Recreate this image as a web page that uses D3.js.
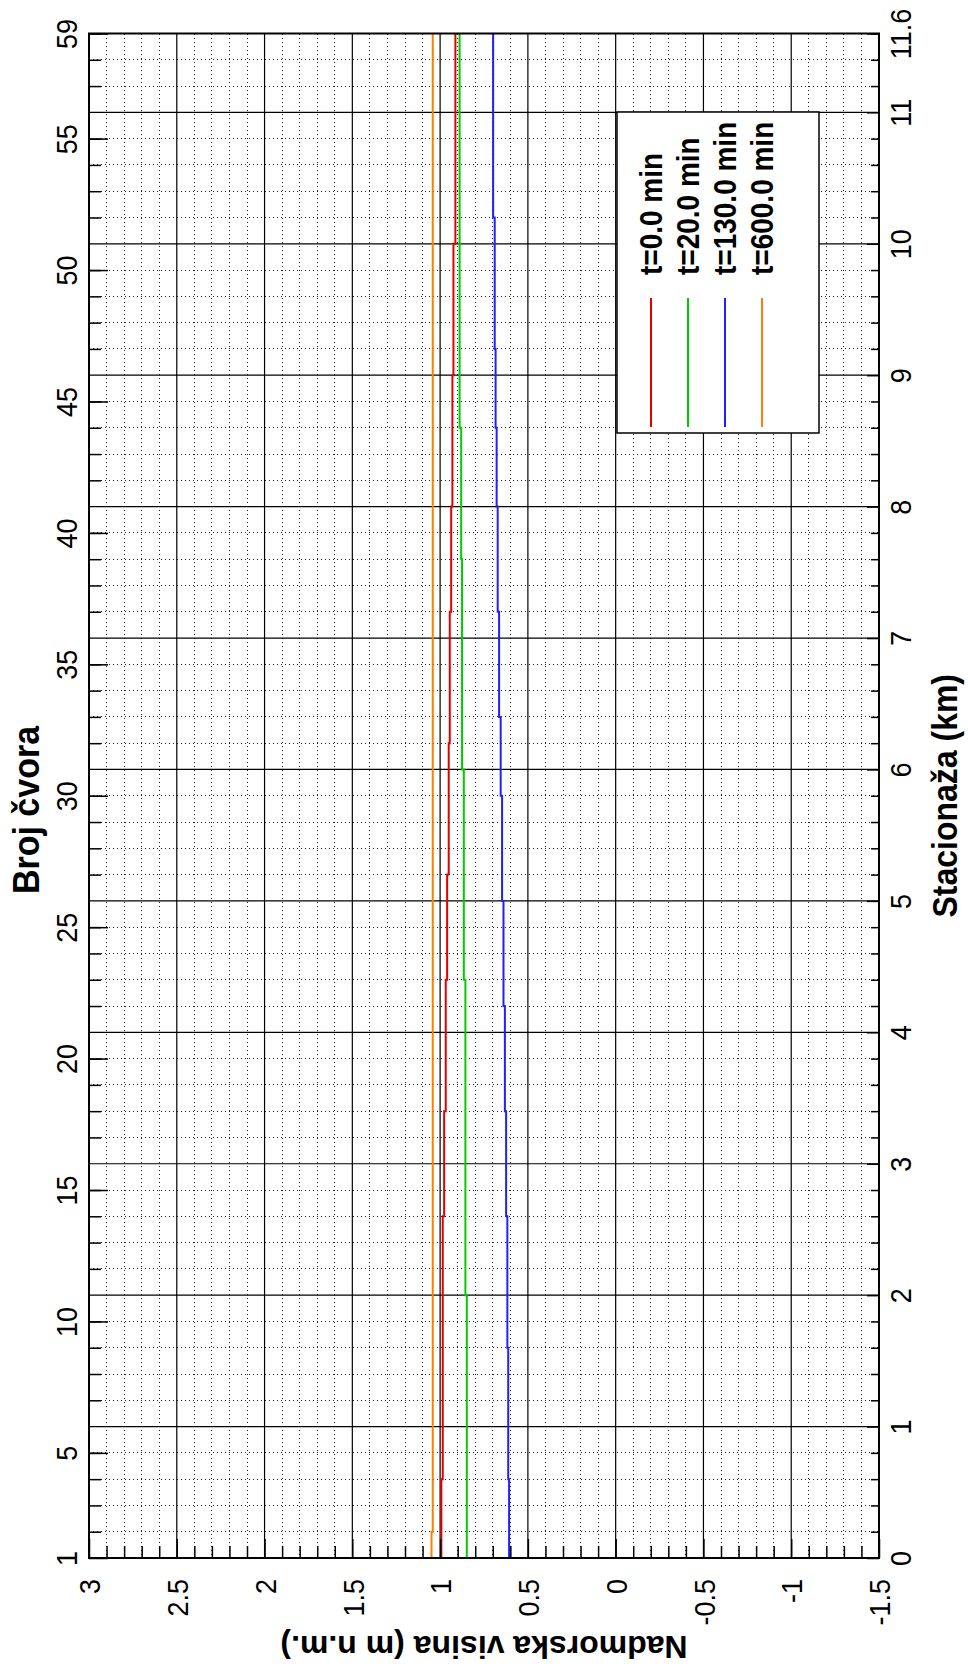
<!DOCTYPE html>
<html>
<head>
<meta charset="utf-8">
<script src="https://cdn.jsdelivr.net/npm/d3@7"></script>
<style>
  body { margin: 0; background: #fff; }
  svg { display: block; }
</style>
</head>
<body>
<div id="chart"></div>
<script>
// tick labels
var nodeTicks  = [1, 5, 10, 15, 20, 25, 30, 35, 40, 45, 50, 55, 59];
var kmTicks    = [0, 1, 2, 3, 4, 5, 6, 7, 8, 9, 10, 11, 11.6];
var levelTicks = [3, 2.5, 2, 1.5, 1, 0.5, 0, -0.5, -1, -1.5];

// series (stationing of each step in km, water level in m n.m.)
var seriesNames  = ["t=0.0 min", "t=20.0 min", "t=130.0 min", "t=600.0 min"];
var seriesColors = ["#e00000", "#00cc00", "#2020ff", "#ff8000"];

var redKm     = [0, 0.6, 2.6, 3.4, 4.4, 5.2, 6.2, 7.2, 8.0, 9.0, 10.0, 11.0];
var redVal    = [1.003, 0.993, 0.985, 0.977, 0.968, 0.960, 0.951, 0.945, 0.937, 0.930, 0.924, 0.913];
var greenKm   = [0, 2.0, 4.4, 6.0, 7.6, 8.6, 10.0];
var greenVal  = [0.843, 0.848, 0.856, 0.865, 0.875, 0.880, 0.889];
var blueKm    = [0, 0.6, 1.6, 2.6, 3.4, 4.2, 5.0, 5.8, 6.4, 7.2, 8.0, 8.6, 9.2, 10.2, 11.4];
var blueVal   = [0.600, 0.607, 0.612, 0.617, 0.624, 0.631, 0.639, 0.647, 0.655, 0.664, 0.672, 0.678, 0.684, 0.689, 0.698];
var orangeKm  = [0, 0.2, 7.0];
var orangeVal = [1.040, 1.049, 1.042];

var kmMax = 11.6;

// layout (the figure is drawn turned a quarter turn: stationing runs upward)
var W = 968, H = 1666;
var box = {left: 89, right: 879, top: 33.5, bottom: 1558};
var font = "'Liberation Sans', Arial, Helvetica, sans-serif";
var stretch = "scale(1.1,1) rotate(-90)";   // turned text is a bit taller than wide

var svg = d3.select("#chart").append("svg")
    .attr("width", W)
    .attr("height", H);

svg.append("rect").attr("width", W).attr("height", H).attr("fill", "#fff");

var x = d3.scaleLinear().domain([3, -1.5]).range([box.left, box.right]);
var y = d3.scaleLinear().domain([0, kmMax]).range([box.bottom, box.top]);
var yNode = d3.scaleLinear().domain([1, 59]).range([box.bottom, box.top]);

// minor and major grid values
var levelMinor = d3.range(-15, 31).map(function(i) { return i / 10; })
    .filter(function(v) { return Math.abs(v * 2 - Math.round(v * 2)) > 1e-6; });
var levelMajor = levelTicks.filter(function(v) { return v < 3 && v > -1.5; });
var kmMinor = d3.range(0, 59).map(function(i) { return i / 5; })
    .filter(function(v) { return Math.abs(v - Math.round(v)) > 1e-6; });
var kmMajor = d3.range(1, 12);

var grid = svg.append("g");
grid.selectAll(".vminor").data(levelMinor).enter().append("line")
    .attr("x1", function(d) { return x(d); }).attr("x2", function(d) { return x(d); })
    .attr("y1", box.top).attr("y2", box.bottom)
    .attr("stroke", "#222").attr("stroke-width", 1)
    .attr("stroke-dasharray", "1,3")
    .attr("shape-rendering", "crispEdges");
grid.selectAll(".hminor").data(kmMinor).enter().append("line")
    .attr("x1", box.left).attr("x2", box.right)
    .attr("y1", function(d) { return y(d); }).attr("y2", function(d) { return y(d); })
    .attr("stroke", "#222").attr("stroke-width", 1)
    .attr("stroke-dasharray", "1,3")
    .attr("shape-rendering", "crispEdges");
grid.selectAll(".vmajor").data(levelMajor).enter().append("line")
    .attr("x1", function(d) { return x(d); }).attr("x2", function(d) { return x(d); })
    .attr("y1", box.top).attr("y2", box.bottom)
    .attr("stroke", "#000").attr("stroke-width", 1.2);
grid.selectAll(".hmajor").data(kmMajor).enter().append("line")
    .attr("x1", box.left).attr("x2", box.right)
    .attr("y1", function(d) { return y(d); }).attr("y2", function(d) { return y(d); })
    .attr("stroke", "#000").attr("stroke-width", 1.2);

// series lines
var line = d3.line()
    .x(function(d) { return x(d[1]); })
    .y(function(d) { return y(d[0]); })
    .curve(d3.curveStepAfter);

function steps(km, val) {
  var pts = km.map(function(k, i) { return [k, val[i]]; });
  pts.push([kmMax, val[val.length - 1]]);
  return pts;
}

var series = [
  steps(redKm, redVal),
  steps(greenKm, greenVal),
  steps(blueKm, blueVal),
  steps(orangeKm, orangeVal)
];

svg.append("g").selectAll("path").data(series).enter().append("path")
    .attr("d", line)
    .attr("fill", "none")
    .attr("stroke", function(d, i) { return seriesColors[i]; })
    .attr("stroke-width", 2);

// axes
function styleAxis(g) {
  g.attr("font-family", font).attr("font-size", 27);
  g.select(".domain").remove();
  g.selectAll(".tick line").attr("stroke", "#000").attr("stroke-width", 1.5);
}

// bottom: water level
svg.append("g").attr("transform", "translate(0," + box.bottom + ")")
    .call(d3.axisBottom(x).tickValues(levelMinor).tickFormat("").tickSizeInner(-12).tickSizeOuter(0))
    .call(styleAxis);
var gBottom = svg.append("g").attr("transform", "translate(0," + box.bottom + ")")
    .call(d3.axisBottom(x).tickValues(levelTicks).tickFormat(function(d) { return String(d); })
          .tickSizeInner(-19).tickSizeOuter(0))
    .call(styleAxis);
gBottom.selectAll(".tick text")
    .attr("x", 0).attr("y", 0)
    .attr("dy", "0.36em")
    .attr("text-anchor", "end")
    .attr("fill", "#000")
    .attr("transform", "translate(0,21) " + stretch);

// left: node numbers
svg.append("g").attr("transform", "translate(" + box.left + ",0)")
    .call(d3.axisLeft(y).tickValues(kmMinor).tickFormat("").tickSizeInner(-12).tickSizeOuter(0))
    .call(styleAxis);
var gLeft = svg.append("g").attr("transform", "translate(" + box.left + ",0)")
    .call(d3.axisLeft(yNode).tickValues(nodeTicks).tickSizeInner(-19).tickSizeOuter(0))
    .call(styleAxis);
gLeft.selectAll(".tick text")
    .attr("x", 0).attr("y", 0)
    .attr("dy", "0.36em")
    .attr("text-anchor", "middle")
    .attr("fill", "#000")
    .attr("transform", "translate(-23,0) " + stretch);

// right: stationing
svg.append("g").attr("transform", "translate(" + box.right + ",0)")
    .call(d3.axisRight(y).tickValues(kmMinor).tickFormat("").tickSizeInner(-8).tickSizeOuter(0))
    .call(styleAxis);
var gRight = svg.append("g").attr("transform", "translate(" + box.right + ",0)")
    .call(d3.axisRight(y).tickValues(kmTicks).tickFormat(function(d) { return String(d); })
          .tickSizeInner(-12).tickSizeOuter(0))
    .call(styleAxis);
gRight.selectAll(".tick text")
    .attr("x", 0).attr("y", 0)
    .attr("dy", "0.36em")
    .attr("text-anchor", "middle")
    .attr("fill", "#000")
    .attr("transform", "translate(21,0) " + stretch);

// frame
svg.append("rect")
    .attr("x", box.left).attr("y", box.top)
    .attr("width", box.right - box.left).attr("height", box.bottom - box.top)
    .attr("fill", "none").attr("stroke", "#000").attr("stroke-width", 2);

// axis titles
var yMid = (box.top + box.bottom) / 2;
svg.append("text")
    .attr("transform", "translate(26,810) " + stretch)
    .attr("text-anchor", "middle").attr("dy", "0.36em")
    .attr("font-family", font).attr("font-weight", "bold").attr("font-size", 34)
    .text("Broj čvora");
svg.append("text")
    .attr("transform", "translate(944," + yMid + ") " + stretch)
    .attr("text-anchor", "middle").attr("dy", "0.36em")
    .attr("font-family", font).attr("font-weight", "bold").attr("font-size", 32)
    .text("Stacionaža (km)");
svg.append("text")
    .attr("transform", "translate(" + (box.left + box.right) / 2 + ",1648) rotate(180)")
    .attr("text-anchor", "middle").attr("dy", "0.36em")
    .attr("font-family", font).attr("font-weight", "bold").attr("font-size", 32)
    .text("Nadmorska visina (m n.m.)");

// legend
var leg = {left: 617, top: 112, right: 819, bottom: 433};
var legG = svg.append("g");
legG.append("rect")
    .attr("x", leg.left).attr("y", leg.top)
    .attr("width", leg.right - leg.left).attr("height", leg.bottom - leg.top)
    .attr("fill", "#fff").attr("stroke", "#000").attr("stroke-width", 1.5);
var legItem = legG.selectAll(".item").data(seriesNames).enter().append("g")
    .attr("transform", function(d, i) { return "translate(" + (leg.left + 34 + i * 37) + ",0)"; });
legItem.append("line")
    .attr("x1", 0).attr("x2", 0)
    .attr("y1", leg.bottom - 6).attr("y2", leg.top + 186)
    .attr("stroke", function(d, i) { return seriesColors[i]; })
    .attr("stroke-width", 2);
legItem.append("text")
    .attr("transform", "translate(0," + (leg.top + 163) + ") " + stretch)
    .attr("dy", "0.36em")
    .attr("font-family", font).attr("font-weight", "bold").attr("font-size", 28)
    .text(function(d) { return d; });
</script>
</body>
</html>
